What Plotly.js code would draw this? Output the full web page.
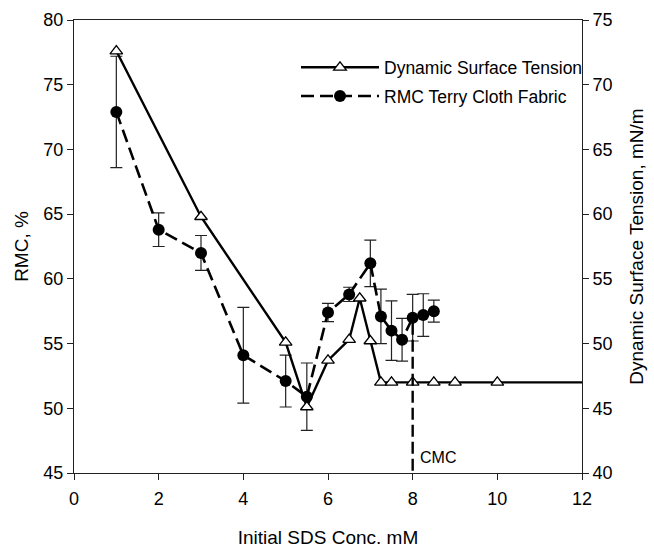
<!DOCTYPE html>
<html>
<head>
<meta charset="utf-8">
<script src="https://cdn.plot.ly/plotly-3.0.1.min.js"></script>
<style>html,body{margin:0;padding:0;background:#fff;}#chart{width:654px;height:548px;}</style>
</head>
<body>
<div id="chart"></div>
<script>
// Dynamic surface tension (right axis, mN/m)
var dstX = [1, 3, 5, 5.5, 6, 6.5, 6.75, 7, 7.25, 7.5, 8, 8.5, 9, 10];
var dstY = [72.6, 59.8, 50.1, 45.1, 48.7, 50.3, 53.5, 50.2, 47, 47, 47, 47, 47, 47];
// plateau continues to the end of the axis
var plateauX = [10, 12];
var plateauY = [47, 47];

// RMC Terry cloth fabric (left axis, %)
var rmcX = [1, 2, 3, 4, 5, 5.5, 6, 6.5, 7, 7.25, 7.5, 7.75, 8, 8.25, 8.5];
var rmcY = [72.9, 63.8, 62.0, 54.1, 52.1, 50.9, 57.4, 58.8, 61.2, 57.1, 56.0, 55.3, 57.0, 57.2, 57.5];
var rmcErr = [4.3, 1.3, 1.35, 3.7, 2.0, 2.6, 0.7, 0.55, 1.8, 2.1, 2.3, 1.65, 1.8, 1.65, 0.85];

// CMC marker
var cmcX = 8;
var cmcTop = 56.6;
var cmcLabel = "CMC";

var FONT = "Liberation Sans, Arial, sans-serif";

var traces = [
  {
    x: rmcX, y: rmcY, yaxis: 'y', name: 'RMC Terry Cloth Fabric',
    legendgroup: 'b', legendrank: 2,
    mode: 'lines+markers',
    line: {color: '#000', width: 2.6, dash: '13px,6px'},
    marker: {symbol: 'circle', size: 12, color: '#000'},
    error_y: {type: 'data', array: rmcErr, visible: true, color: '#222', thickness: 1.2, width: 6}
  },
  {
    x: plateauX, y: plateauY, yaxis: 'y2', showlegend: false, hoverinfo: 'skip',
    mode: 'lines', line: {color: '#000', width: 2.4}
  },
  {
    x: dstX, y: dstY, yaxis: 'y2', name: 'Dynamic Surface Tension',
    legendgroup: 'a', legendrank: 1,
    mode: 'lines+markers',
    line: {color: '#000', width: 2.4},
    marker: {symbol: 'triangle-up', size: 11, color: '#fff', line: {color: '#000', width: 1.3}}
  }
];

var layout = {
  width: 654, height: 548,
  margin: {l: 74, r: 72, t: 20, b: 75},
  paper_bgcolor: '#fff', plot_bgcolor: '#fff',
  font: {family: FONT, size: 18, color: '#000'},
  showlegend: true,
  legend: {
    x: 0.437, y: 0.935, xanchor: 'left', yanchor: 'top',
    bgcolor: 'rgba(0,0,0,0)', borderwidth: 0,
    font: {family: FONT, size: 17.5, color: '#000'},
    traceorder: 'grouped', tracegroupgap: 3, itemwidth: 78
  },
  xaxis: {
    range: [0, 12], tickvals: [0, 2, 4, 6, 8, 10, 12],
    showgrid: false, zeroline: false,
    showline: true, linecolor: '#222', linewidth: 1, mirror: true,
    ticks: 'outside', ticklen: 6, tickcolor: '#222', ticklabelstandoff: 3,
    title: {text: 'Initial SDS Conc. mM', font: {family: FONT, size: 19}, standoff: 26}
  },
  yaxis: {
    range: [45, 80], tickvals: [45, 50, 55, 60, 65, 70, 75, 80],
    showgrid: false, zeroline: false,
    showline: true, linecolor: '#222', linewidth: 1,
    ticks: 'outside', ticklen: 6, tickcolor: '#222',
    title: {text: 'RMC, %', font: {family: FONT, size: 19}, standoff: 9}
  },
  yaxis2: {
    range: [40, 75], tickvals: [40, 45, 50, 55, 60, 65, 70, 75],
    overlaying: 'y', side: 'right', anchor: 'x',
    showgrid: false, zeroline: false,
    showline: true, linecolor: '#222', linewidth: 1,
    ticks: 'outside', ticklen: 6, tickcolor: '#222',
    title: {text: 'Dynamic Surface Tension, mN/m', font: {family: FONT, size: 19}, standoff: 18}
  },
  shapes: [
    {type: 'line', xref: 'x', yref: 'y', x0: cmcX, x1: cmcX, y0: cmcTop, y1: 45,
     line: {color: '#000', width: 2.4, dash: '12px,5px'}}
  ],
  annotations: [
    {x: cmcX, y: 46.2, xref: 'x', yref: 'y', text: cmcLabel, showarrow: false,
     xanchor: 'left', xshift: 5, font: {family: FONT, size: 16, color: '#000'}}
  ]
};

Plotly.newPlot('chart', traces, layout, {staticPlot: true, displayModeBar: false});
</script>
</body>
</html>
